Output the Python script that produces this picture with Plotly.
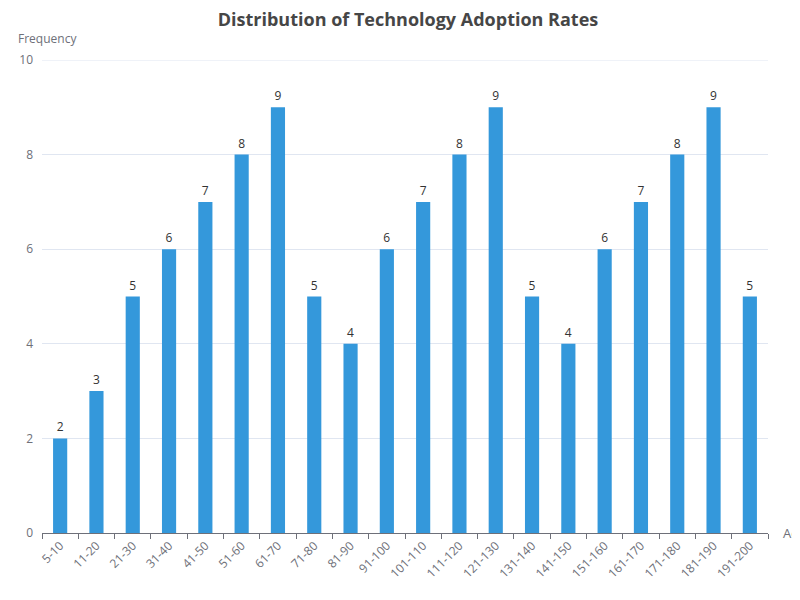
import plotly.graph_objects as go

# adoption rate bins and counts
bins = ["5-10", "11-20", "21-30", "31-40", "41-50", "51-60", "61-70", "71-80",
        "81-90", "91-100", "101-110", "111-120", "121-130", "131-140", "141-150",
        "151-160", "161-170", "171-180", "181-190", "191-200"]
frequency = [2, 3, 5, 6, 7, 8, 9, 5, 4, 6, 7, 8, 9, 5, 4, 6, 7, 8, 9, 5]
y_ticks = [0, 2, 4, 6, 8, 10]

axis_grey = "#6E7079"
grid_grey = "#E0E6F1"

fig = go.Figure(
    go.Bar(
        x=bins,
        y=frequency,
        marker=dict(color="#3498db", line=dict(width=0)),
        text=frequency,
        textposition="outside",
        textfont=dict(color="#333333", size=12),
        cliponaxis=False,
    )
)

# page body has an 8px margin, so the plot box is shifted back by that much
fig.update_layout(
    width=800,
    height=600,
    margin=dict(l=34, r=40, t=52, b=75, autoexpand=False),
    plot_bgcolor="white",
    paper_bgcolor="white",
    font=dict(family="Open Sans, sans-serif", size=12, color=axis_grey),
    bargap=0.61,
    showlegend=False,
    title=dict(
        text="<b>Distribution of Technology Adoption Rates</b>",
        x=0.5,
        xanchor="center",
        y=0.98,
        yanchor="middle",
        font=dict(size=18, color="#464646"),
    ),
)

fig.update_xaxes(
    type="category",
    tickangle=-45,
    ticks="outside",
    tickson="boundaries",
    ticklen=5,
    tickcolor=axis_grey,
    showline=True,
    linecolor=axis_grey,
    showgrid=False,
    tickfont=dict(size=12, color=axis_grey),
)

fig.update_yaxes(
    range=[0, 10],
    tickvals=y_ticks,
    showgrid=True,
    gridcolor=grid_grey,
    zeroline=False,
    showline=False,
    ticks="",
    ticklabelstandoff=8,
    tickfont=dict(size=12, color=axis_grey),
)

# top grid line sits on the plot edge, draw it explicitly
fig.add_hline(y=y_ticks[-1], line=dict(color=grid_grey, width=1), layer="below")

fig.add_annotation(
    text="Frequency", xref="paper", yref="paper", x=-0.036, y=1.0,
    yshift=22, xanchor="left", yanchor="middle", showarrow=False,
    font=dict(size=12, color=axis_grey),
)
# axis name runs off the right edge, as in the original
fig.add_annotation(
    text="Adoption Rate (%)", xref="paper", yref="paper", x=1.0, y=0,
    xshift=13, xanchor="left", yanchor="middle", showarrow=False,
    font=dict(size=13, color=axis_grey),
)

fig.write_html("out.html")
